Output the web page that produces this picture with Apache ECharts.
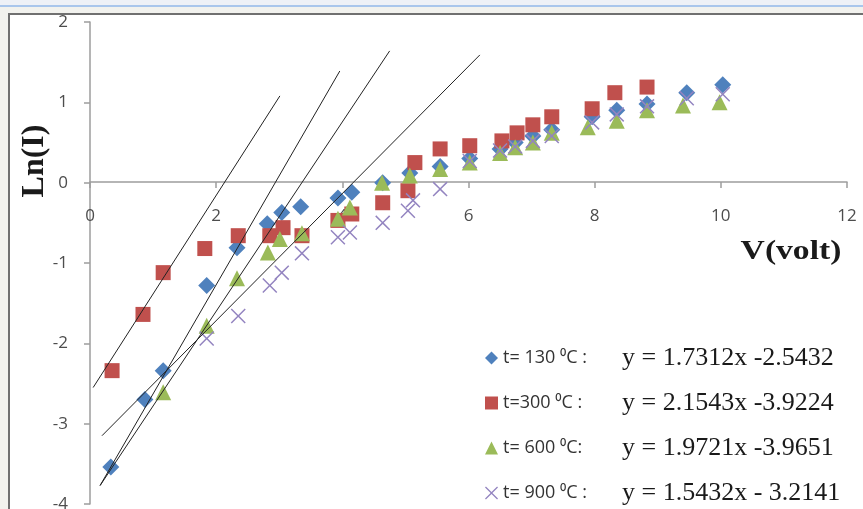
<!DOCTYPE html>
<html>
<head>
<meta charset="utf-8">
<script src="https://cdn.jsdelivr.net/npm/echarts@6/dist/echarts.min.js"></script>
<style>
  html, body { margin: 0; padding: 0; background: #f2f2ee; }
  #chart { width: 863px; height: 509px; }
</style>
</head>
<body>
<div id="chart"></div>
<script>
// legend names and the fitted equations written next to them
var seriesNames = ['t= 130 ⁰C :', 't=300 ⁰C :', 't= 600 ⁰C:', 't= 900 ⁰C :']
var equations = ['y = 1.7312x -2.5432', 'y = 2.1543x -3.9224', 'y = 1.9721x -3.9651', 'y = 1.5432x - 3.2141']

// t = 130 C
var v130 = [0.33, 0.87, 1.16, 1.85, 2.33, 2.81, 3.04, 3.34, 3.93, 4.15, 4.64, 5.07, 5.55, 6.02, 6.5, 6.74, 7.02, 7.32, 7.96, 8.35, 8.83, 9.46, 10.03]
var ln130 = [-3.54, -2.7, -2.34, -1.28, -0.81, -0.51, -0.37, -0.3, -0.19, -0.12, 0.0, 0.12, 0.2, 0.3, 0.42, 0.5, 0.58, 0.66, 0.82, 0.9, 0.98, 1.12, 1.22]
// t = 300 C
var v300 = [0.35, 0.84, 1.16, 1.82, 2.35, 2.85, 3.06, 3.36, 3.93, 4.15, 4.64, 5.04, 5.15, 5.55, 6.02, 6.53, 6.77, 7.02, 7.32, 7.96, 8.32, 8.83]
var ln300 = [-2.34, -1.64, -1.12, -0.82, -0.66, -0.66, -0.56, -0.66, -0.47, -0.39, -0.25, -0.1, 0.25, 0.42, 0.46, 0.52, 0.62, 0.72, 0.82, 0.92, 1.12, 1.19]
// t = 600 C
var v600 = [1.16, 1.85, 2.33, 2.82, 3.01, 3.36, 3.93, 4.12, 4.63, 5.07, 5.55, 6.02, 6.5, 6.74, 7.02, 7.32, 7.89, 8.35, 8.83, 9.4, 9.98]
var ln600 = [-2.61, -1.78, -1.19, -0.87, -0.7, -0.63, -0.45, -0.31, 0.0, 0.09, 0.17, 0.25, 0.37, 0.44, 0.5, 0.62, 0.69, 0.77, 0.9, 0.96, 1.0]
// t = 900 C
var v900 = [1.85, 2.35, 2.85, 3.04, 3.36, 3.93, 4.12, 4.64, 5.04, 5.12, 5.55, 6.02, 6.5, 6.74, 7.02, 7.32, 7.96, 8.35, 8.83, 9.46, 10.03]
var ln900 = [-1.94, -1.66, -1.28, -1.12, -0.88, -0.68, -0.62, -0.5, -0.35, -0.22, -0.08, 0.27, 0.4, 0.45, 0.52, 0.58, 0.75, 0.85, 0.95, 1.05, 1.1]

// trend lines as drawn on the chart: [start, end]
var fitLines = [
  [[0.05, -2.55], [3.01, 1.08]],
  [[0.16, -3.77], [3.96, 1.39]],
  [[0.16, -3.77], [4.75, 1.64]],
  [[0.19, -3.15], [6.18, 1.59]]
]

var colors = ['#4f81bd', '#c0504d', '#9bbb59', '#9384c0']
var crossPath = 'path://M0,7L7,0L50,43L93,0L100,7L57,50L100,93L93,100L50,57L7,100L0,93L43,50Z'
var symbols = ['diamond', 'rect', 'triangle', crossPath]
var sizes = [17, 15, 16, 15]

function zip (xs, ys) {
  return xs.map(function (x, i) { return [x, ys[i]] })
}

var pointSets = [zip(v130, ln130), zip(v300, ln300), zip(v600, ln600), zip(v900, ln900)]

var series = pointSets.map(function (pts, i) {
  return {
    name: seriesNames[i],
    type: 'scatter',
    data: pts,
    symbol: symbols[i],
    symbolSize: sizes[i],
    itemStyle: { color: colors[i], opacity: 1 },
    z: 2 + i
  }
})

fitLines.forEach(function (seg, i) {
  series.push({
    name: 'fit' + i,
    type: 'line',
    data: seg,
    symbol: 'none',
    lineStyle: { color: '#222', width: 1 },
    silent: true,
    z: 10
  })
})

var myChart = echarts.init(document.getElementById('chart'))
myChart.setOption({
  animation: false,
  graphic: [
    { type: 'rect', z: -10, shape: { x: 0, y: 0, width: 863, height: 5 }, style: { fill: '#eef1f7' } },
    { type: 'rect', z: -10, shape: { x: 0, y: 5, width: 863, height: 2 }, style: { fill: '#a9c6ec' } },
    { type: 'rect', z: -10, shape: { x: 9, y: 14, width: 870, height: 510 }, style: { fill: '#fff', stroke: '#707070', lineWidth: 2 } },
    {
      type: 'text', z: 20, x: 35, y: 161, rotation: Math.PI / 2,
      style: { text: 'Ln(I)', font: 'bold 32px "Liberation Serif"', fill: '#1a1a1a', align: 'center', verticalAlign: 'middle' }
    },
    {
      type: 'text', z: 20, x: 791, y: 252, scaleX: 1.2,
      style: { text: 'V(volt)', font: 'bold 28px "Liberation Serif"', fill: '#1a1a1a', align: 'center', verticalAlign: 'middle' }
    }
  ],
  grid: { left: 90, right: 16, top: 22, bottom: 5, containLabel: false, outerBoundsMode: 'none' },
  xAxis: {
    type: 'value', min: 0, max: 12, interval: 2,
    // axis drawn through y = 0 (grid bottom is at y = -4)
    offset: -322,
    axisLine: { onZero: false, lineStyle: { color: '#9d9d9d', width: 1.5 } },
    axisTick: { show: true, length: 6, lineStyle: { color: '#9d9d9d', width: 1.5 } },
    axisLabel: { margin: 26, color: '#4d4d4d', fontSize: 17, fontFamily: 'Open Sans' },
    splitLine: { show: false }
  },
  yAxis: {
    type: 'value', min: -4, max: 2, interval: 1,
    axisLine: { show: true, lineStyle: { color: '#9d9d9d', width: 1.5 } },
    axisTick: { show: true, length: 6, lineStyle: { color: '#9d9d9d', width: 1.5 } },
    axisLabel: { margin: 22, color: '#4d4d4d', fontSize: 17, fontFamily: 'Open Sans' },
    splitLine: { show: false }
  },
  legend: {
    data: seriesNames,
    orient: 'vertical',
    left: 485,
    top: 345,
    height: 220,
    padding: 0,
    itemWidth: 13,
    itemHeight: 13,
    itemGap: 19,
    formatter: function (name) {
      var i = seriesNames.indexOf(name)
      return '{a|' + name + '}{b|' + equations[i] + '}'
    },
    textStyle: {
      rich: {
        a: { fontFamily: 'Open Sans', fontSize: 18, color: '#333', width: 119, lineHeight: 20 },
        b: { fontFamily: 'Liberation Serif', fontSize: 26, color: '#1a1a1a', lineHeight: 20 }
      }
    }
  },
  series: series
})
</script>
</body>
</html>
